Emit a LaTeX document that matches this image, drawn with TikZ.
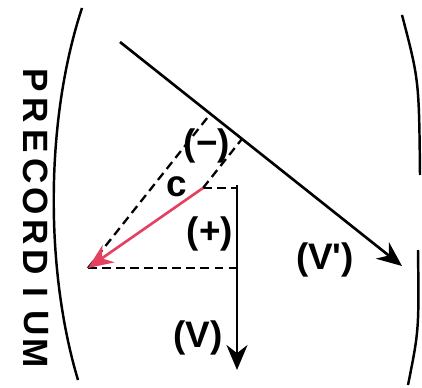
\documentclass[tikz,border=0pt]{standalone}
\usepackage{fontspec}
\setmainfont{Liberation Sans}
\usepackage{xcolor}
\usetikzlibrary{arrows.meta, positioning, calc}
\definecolor{vecred}{RGB}{228,64,96}

\begin{document}
\begin{tikzpicture}[x=0.02cm, y=-0.02cm,
    every node/.style={font=\bfseries\fontsize{21}{21}\selectfont, inner sep=0pt},
    wall/.style={line width=1.4pt},
    vec/.style={line width=1.5pt, -{Stealth[length=5mm, width=4.2mm]}},
    proj/.style={line width=1.3pt, dash pattern=on 5pt off 3pt}]
    \useasboundingbox (0,0) rectangle (422,388);
    % chest wall
    \draw[wall] (82,8) .. controls (45,120) and (45,270) .. (78,380);
    \draw[wall] (402,15) .. controls (419,80) .. (420,175);
    \draw[wall] (418,250) .. controls (419,330) .. (408,385);
    \foreach \ltr [count=\i from 0] in {P,R,E,C,O,R,D,I,U,M}
        \node[rotate=-90, font=\bfseries\fontsize{20}{20}\selectfont] (wall\i) at (36,{80+30.4*\i}) {\ltr};
    % lead axes and vector
    \coordinate (vpa) at (120,42);
    \coordinate (vpb) at (402,266);
    \coordinate (va) at (237,185);
    \coordinate (vb) at (237,370);
    \coordinate (c) at (203,188);
    \coordinate (tip) at (88,268);
    \coordinate (cfoot) at ($(vpa)!(c)!(vpb)$);
    \coordinate (tipfoot) at ($(vpa)!(tip)!(vpb)$);
    \draw[vec] (vpa) -- (vpb);
    \draw[vec] (va) -- (vb);
    \draw[proj] (c) -- (cfoot);
    \draw[proj] (tip) -- (tipfoot);
    \draw[proj] (c) -- (c -| va);
    \draw[proj] (tip) -- (tip -| va);
    \draw[vec, vecred] (c) -- (tip);
    % labels
    \node (minus) at (207,146) {(−)};
    \node (clabel) at (177,187) {c};
    \node (plus) at (210,234) {(+)};
    \node (vplabel) at (325,260) {(V\textquotesingle)};
    \node (vlabel) at (198,338) {(V)};
\end{tikzpicture}
\end{document}
